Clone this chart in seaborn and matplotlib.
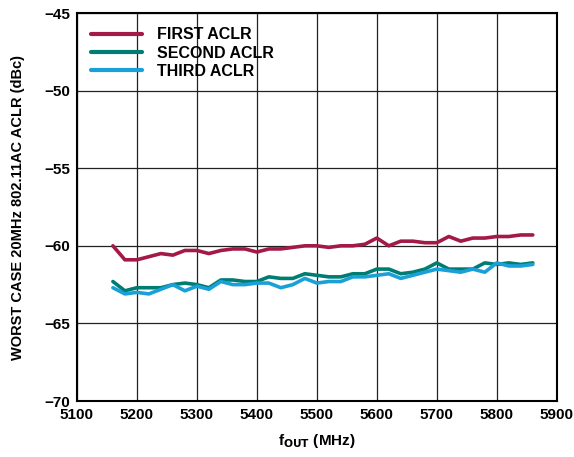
import pandas as pd
import matplotlib
matplotlib.use('Agg')
import matplotlib.pyplot as plt
import seaborn as sns

# frequência de saída (MHz)
freq = list(range(5160, 5861, 20))

first_aclr = [-60.0, -60.9, -60.9, -60.7, -60.5, -60.6, -60.3, -60.3, -60.5, -60.3,
              -60.2, -60.2, -60.4, -60.2, -60.2, -60.1, -60.0, -60.0, -60.1, -60.0,
              -60.0, -59.9, -59.5, -60.0, -59.7, -59.7, -59.8, -59.8, -59.4, -59.7,
              -59.5, -59.5, -59.4, -59.4, -59.3, -59.3]
second_aclr = [-62.3, -62.9, -62.7, -62.7, -62.7, -62.5, -62.4, -62.5, -62.7, -62.2,
               -62.2, -62.3, -62.3, -62.0, -62.1, -62.1, -61.8, -61.9, -62.0, -62.0,
               -61.8, -61.8, -61.5, -61.5, -61.8, -61.7, -61.5, -61.1, -61.5, -61.5,
               -61.5, -61.1, -61.2, -61.1, -61.2, -61.1]
third_aclr = [-62.7, -63.1, -63.0, -63.1, -62.8, -62.5, -62.9, -62.6, -62.8, -62.3,
              -62.5, -62.5, -62.4, -62.4, -62.7, -62.5, -62.1, -62.4, -62.3, -62.3,
              -62.0, -62.0, -61.9, -61.8, -62.1, -61.9, -61.7, -61.5, -61.6, -61.7,
              -61.5, -61.7, -61.1, -61.3, -61.3, -61.2]

series = ['FIRST ACLR', 'SECOND ACLR', 'THIRD ACLR']
colors = ['#A3194A', '#007D73', '#1AA0D8']

df = pd.DataFrame({'freq': freq * 3,
                   'aclr': first_aclr + second_aclr + third_aclr,
                   'serie': [s for s in series for _ in freq]})

sns.set_style('white')
plt.rcParams['font.family'] = ['Liberation Sans', 'DejaVu Sans']
plt.rcParams['font.weight'] = 'bold'
plt.rcParams['text.color'] = 'black'
plt.rcParams['axes.labelcolor'] = 'black'
plt.rcParams['xtick.color'] = 'black'
plt.rcParams['ytick.color'] = 'black'

fig = plt.figure(figsize=(5.74, 4.57), dpi=100)
ax = fig.add_axes([0.134, 0.1225, 0.836, 0.849])

sns.lineplot(data=df, x='freq', y='aclr', hue='serie', palette=colors,
             linewidth=2.6, ax=ax)

ax.set_xlim(5100, 5900)
ax.set_ylim(-70, -45)
ax.set_xticks(range(5100, 5901, 100))
ax.set_yticks(range(-70, -44, 5))
ax.set_yticklabels(['\u2212' + str(abs(v)) for v in range(-70, -44, 5)])
ax.grid(True, color='#222222', linewidth=0.9)
for s in ax.spines.values():
    s.set_color('black')
    s.set_linewidth(1.5)
ax.tick_params(axis='both', length=0, labelsize=11, pad=5)
for lab in ax.get_xticklabels() + ax.get_yticklabels():
    lab.set_fontweight('bold')

ax.set_xlabel('f$_{\\mathbf{OUT}}$ (MHz)', fontsize=11, fontweight='bold', labelpad=7)
ax.set_ylabel('WORST CASE 20MHz 802.11AC ACLR (dBc)', fontsize=10.5, fontweight='bold', labelpad=14)

leg = ax.legend(loc='upper left', frameon=False, fontsize=11.5, handlelength=3.2,
                borderaxespad=0.5, labelspacing=0.2, handletextpad=0.9)
for t in leg.get_texts():
    t.set_fontweight('bold')
for l in leg.get_lines():
    l.set_linewidth(3)

fig.savefig('out.png', dpi=100)
